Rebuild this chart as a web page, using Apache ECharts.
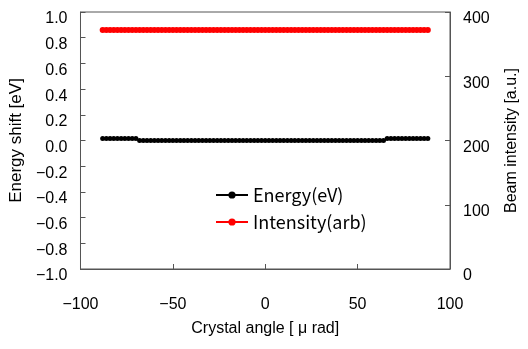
<!DOCTYPE html>
<html>
<head>
<meta charset="utf-8">
<script src="https://cdn.jsdelivr.net/npm/echarts@6/dist/echarts.min.js"></script>
<style>html,body{margin:0;padding:0;background:#fff}#c{width:528px;height:349px}</style>
</head>
<body>
<div id="c"></div>
<script>
var angles = [-88,-86,-84,-82,-80,-78,-76,-74,-72,-70,
-68,-66,-64,-62,-60,-58,-56,-54,-52,-50,
-48,-46,-44,-42,-40,-38,-36,-34,-32,-30,
-28,-26,-24,-22,-20,-18,-16,-14,-12,-10,
-8,-6,-4,-2,0,2,4,6,8,10,
12,14,16,18,20,22,24,26,28,30,
32,34,36,38,40,42,44,46,48,50,
52,54,56,58,60,62,64,66,68,70,
72,74,76,78,80,82,84,86,88];
var energy = [0.015,0.015,0.015,0.015,0.015,0.015,0.015,0.015,0.015,0.015,
0,0,0,0,0,0,0,0,0,0,
0,0,0,0,0,0,0,0,0,0,
0,0,0,0,0,0,0,0,0,0,
0,0,0,0,0,0,0,0,0,0,
0,0,0,0,0,0,0,0,0,0,
0,0,0,0,0,0,0,0,0,0,
0,0,0,0,0,0,0,0.015,0.015,0.015,
0.015,0.015,0.015,0.015,0.015,0.015,0.015,0.015,0.015];
var intensity = [372,372,372,372,372,372,372,372,372,372,
372,372,372,372,372,372,372,372,372,372,
372,372,372,372,372,372,372,372,372,372,
372,372,372,372,372,372,372,372,372,372,
372,372,372,372,372,372,372,372,372,372,
372,372,372,372,372,372,372,372,372,372,
372,372,372,372,372,372,372,372,372,372,
372,372,372,372,372,372,372,372,372,372,
372,372,372,372,372,372,372,372,372];
var seriesNames = ['Energy(eV)', 'Intensity(arb)'];
var axisNames = {x: 'Crystal angle [ \u03bc rad]', left: 'Energy shift [eV]', right: 'Beam intensity [a.u.]'};

function minus(s){ return String(s).replace('-', '\u2212'); }
var numFont = '"Liberation Sans", Arial, sans-serif';
var jpFont = '"Noto Sans CJK JP", sans-serif';
var lineCol = '#555';

var chart = echarts.init(document.getElementById('c'), null, {renderer: 'canvas'});
chart.setOption({
  animation: false,
  backgroundColor: '#fff',
  grid: {left: 79, right: 76, top: 12, bottom: 80, show: true, borderColor: lineCol, borderWidth: 1},
  legend: {
    orient: 'vertical', left: 210, top: 181,
    itemWidth: 32, itemHeight: 9, itemGap: 9,
    textStyle: {fontFamily: jpFont, fontSize: 18, color: '#000'},
    data: seriesNames
  },
  xAxis: {
    type: 'value', min: -100, max: 100, interval: 50,
    name: axisNames.x, nameLocation: 'middle', nameGap: 52,
    nameTextStyle: {fontFamily: numFont, fontSize: 16, color: '#000'},
    axisLine: {onZero: false, lineStyle: {color: lineCol}},
    axisTick: {inside: true, length: 5, lineStyle: {color: lineCol}},
    splitLine: {show: false},
    axisLabel: {margin: 28, fontFamily: numFont, fontSize: 16, color: '#000', formatter: function(v){ return minus(v); }}
  },
  yAxis: [{
    type: 'value', min: -1, max: 1, interval: 0.2,
    name: axisNames.left, nameLocation: 'middle', nameGap: 49,
    nameTextStyle: {fontFamily: numFont, fontSize: 17, color: '#000'},
    axisLine: {show: true, onZero: false, lineStyle: {color: lineCol}},
    axisTick: {show: true, inside: true, length: 5, lineStyle: {color: lineCol}},
    splitLine: {show: false},
    axisLabel: {margin: 13, fontFamily: numFont, fontSize: 16, color: '#000', verticalAlign: 'top', lineHeight: 14, formatter: function(v){ return minus(v.toFixed(1)); }}
  }, {
    type: 'value', min: 0, max: 400, interval: 100, position: 'right',
    name: axisNames.right, nameLocation: 'middle', nameGap: 54,
    nameTextStyle: {fontFamily: numFont, fontSize: 16, color: '#000'},
    axisLine: {show: true, onZero: false, lineStyle: {color: lineCol}},
    axisTick: {show: true, inside: true, length: 5, lineStyle: {color: lineCol}},
    splitLine: {show: false},
    axisLabel: {margin: 13, fontFamily: numFont, fontSize: 16, color: '#000', verticalAlign: 'top', lineHeight: 14}
  }],
  series: [{
    name: seriesNames[0], type: 'line', yAxisIndex: 0,
    data: angles.map(function(a, i){ return [a, energy[i]]; }),
    symbol: 'circle', symbolSize: 5,
    itemStyle: {color: '#000'}, lineStyle: {color: '#000', width: 1.5}
  }, {
    name: seriesNames[1], type: 'line', yAxisIndex: 1,
    data: angles.map(function(a, i){ return [a, intensity[i]]; }),
    symbol: 'circle', symbolSize: 6,
    itemStyle: {color: '#f00'}, lineStyle: {color: '#f00', width: 1.5}
  }]
});
</script>
</body>
</html>
